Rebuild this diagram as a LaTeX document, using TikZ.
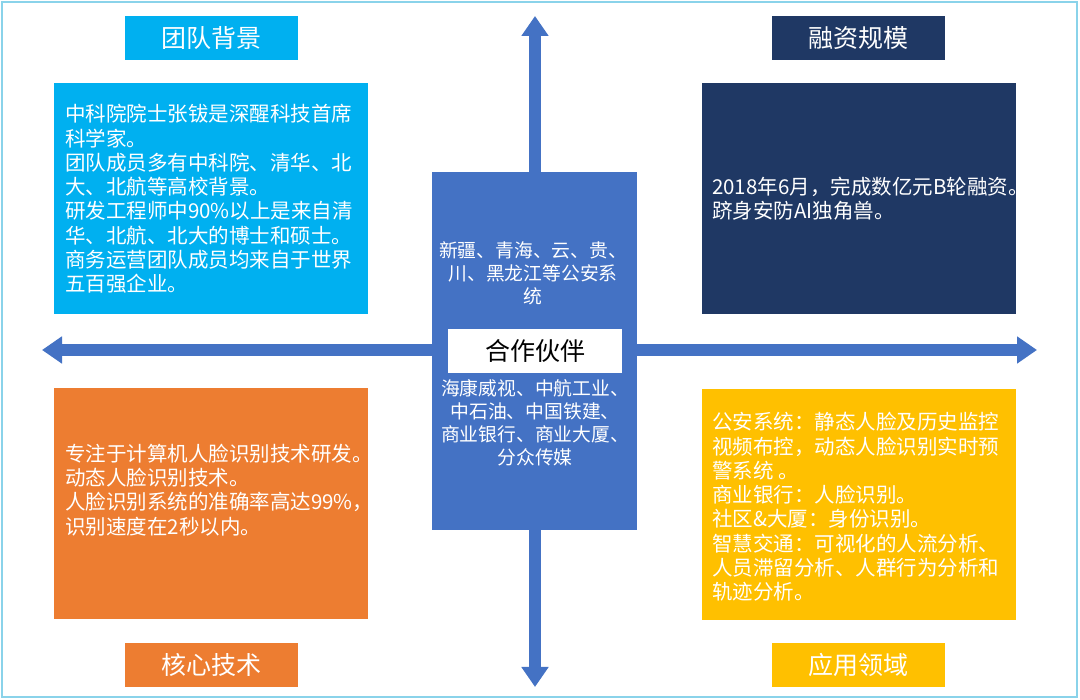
\documentclass[tikz,border=0pt]{standalone}
\usepackage{fontspec}
\setmainfont{Noto Sans CJK SC}
\usetikzlibrary{arrows.meta}
\definecolor{bordercol}{HTML}{8AD3EA}
\definecolor{cyanbox}{HTML}{00B0F0}
\definecolor{navybox}{HTML}{1F3864}
\definecolor{orangebox}{HTML}{ED7D31}
\definecolor{goldbox}{HTML}{FFC000}
\definecolor{bluebox}{HTML}{4472C4}
\tikzset{
  titlebox/.style={rectangle, inner sep=0pt, minimum width=173pt, minimum height=44pt, text=white, font=\fontsize{25}{29}\selectfont},
  contentbox/.style={rectangle, inner sep=0pt, minimum width=314pt, minimum height=231pt},
  bodytext/.style={inner sep=0pt, anchor=west, align=left, text=white, font=\fontsize{20.5}{24.3}\selectfont},
  centertext/.style={inner sep=0pt, align=center, text=white, font=\fontsize{18.8}{23}\selectfont},
  bigarrow/.style={bluebox, line width=12pt, {Triangle[width=26pt,length=20pt]}-{Triangle[width=26pt,length=20pt]}}
}
\begin{document}
\begin{tikzpicture}[x=1pt,y=1pt]
\useasboundingbox (0,0) rectangle (1080,700);
\fill[white] (0,0) rectangle (1080,700);
\draw[bordercol, line width=1.6pt] (2,3) rectangle (1077,698);

% arrow end points
\coordinate (ntip) at (535,684);
\coordinate (stip) at (535,13);
\coordinate (wtip) at (42,350);
\coordinate (etip) at (1037,350);
\draw[bigarrow] (stip) -- (ntip);
\draw[bigarrow] (wtip) -- (etip);

% titles
\node[titlebox, fill=cyanbox] (t1) at (211.5,662) {团队背景};
\node[titlebox, fill=navybox] (t2) at (858.5,662) {融资规模};
\node[titlebox, fill=orangebox] (t3) at (211.5,35) {核心技术};
\node[titlebox, fill=goldbox] (t4) at (858.5,35) {应用领域};

% content boxes
\node[contentbox, fill=cyanbox] (c1) at (211,501.5) {};
\node[contentbox, fill=navybox] (c2) at (858.5,501.5) {};
\node[contentbox, fill=orangebox] (c3) at (211,196.5) {};
\node[contentbox, fill=goldbox] (c4) at (858.5,195.5) {};

\node[bodytext] (x1) at (65,501) {中科院院士张钹是深醒科技首席\\科学家。\\团队成员多有中科院、清华、北\\大、北航等高校背景。\\研发工程师中90\%以上是来自清\\华、北航、北大的博士和硕士。\\商务运营团队成员均来自于世界\\五百强企业。};
\node[bodytext] (x2) at (712,501) {2018年6月，完成数亿元B轮融资。\\跻身安防AI独角兽。};
\node[bodytext] (x3) at (65,210) {专注于计算机人脸识别技术研发。\\动态人脸识别技术。\\人脸识别系统的准确率高达99\%，\\识别速度在2秒以内。};
\node[bodytext] (x4) at (712,193) {公安系统：静态人脸及历史监控\\视频布控，动态人脸识别实时预\\警系统 。\\商业银行：人脸识别。\\社区\&大厦：身份识别。\\智慧交通：可视化的人流分析、\\人员滞留分析、人群行为分析和\\轨迹分析。};

% center
\node[rectangle, fill=bluebox, inner sep=0pt, minimum width=205pt, minimum height=358pt] (cb) at (534.5,349) {};
\node[rectangle, fill=white, inner sep=0pt, minimum width=174pt, minimum height=44pt, font=\fontsize{25}{29}\selectfont] (lab) at (535,349) {合作伙伴};
\node[centertext] (up) at (533,427) {新疆、青海、云、贵、\\川、黑龙江等公安系\\统};
\node[centertext] (dn) at (535,277.5) {海康威视、中航工业、\\中石油、中国铁建、\\商业银行、商业大厦、\\分众传媒};
\end{tikzpicture}
\end{document}
